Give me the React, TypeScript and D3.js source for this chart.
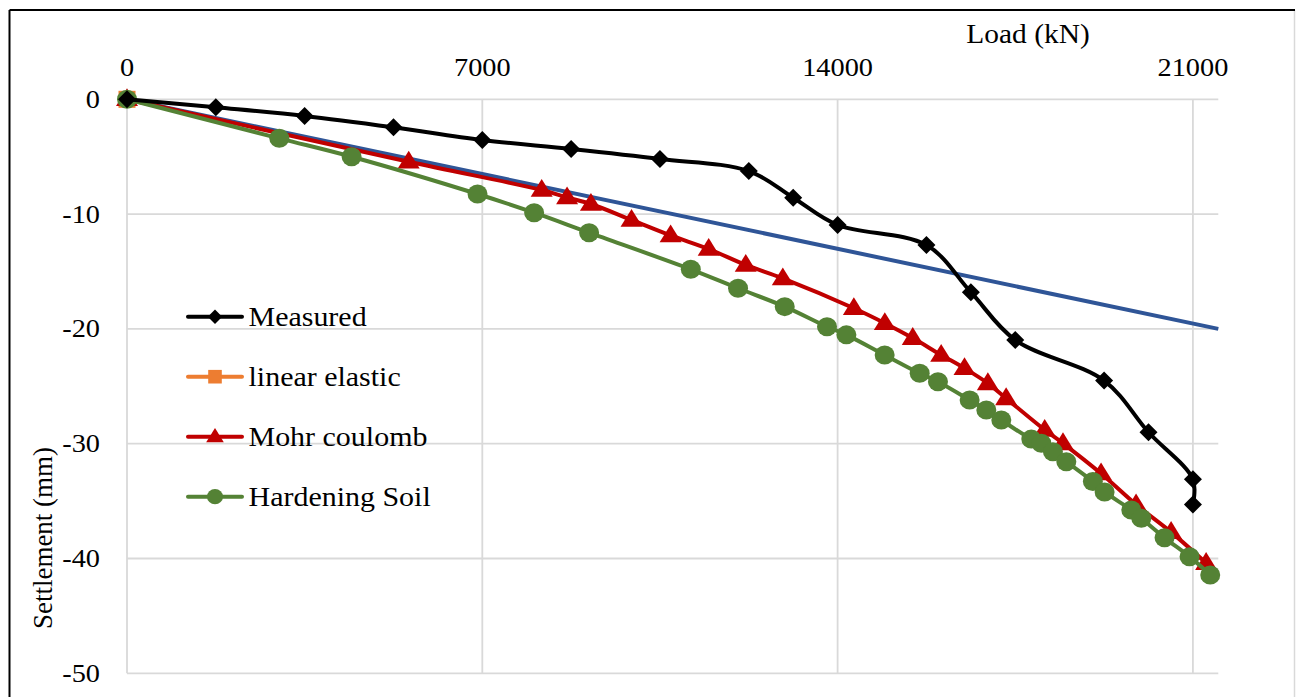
import React, { useEffect } from 'react';
import * as d3 from 'd3';

// load (kN) / settlement (mm)
const measuredLoad = [0, 1750, 3500, 5250, 7000, 8750, 10500, 12250, 13125, 14000, 15750, 16625, 17500, 19250, 20125, 21000, 21000];
const measuredSettle = [0, -0.7, -1.45, -2.44, -3.55, -4.33, -5.2, -6.25, -8.57, -10.95, -12.7, -16.8, -20.97, -24.5, -29.0, -33.1, -35.3];

const elasticLoad = [0];
const elasticSettle = [0];

// blue straight line
const trendLoad = [0, 21500];
const trendSettle = [0, -20];

const mohrLoad = [0, 5550, 8170, 8670, 9140, 9940, 10710, 11460, 12190, 12920, 14320, 14930, 15480, 16040, 16500, 16960, 17320, 18080, 18440, 19190, 19880, 20570, 21260];
const mohrSettle = [0, -5.44, -7.9, -8.55, -9.12, -10.51, -11.86, -13.04, -14.43, -15.6, -18.2, -19.5, -20.8, -22.27, -23.43, -24.74, -26.05, -28.8, -29.97, -32.6, -35.3, -37.7, -40.4];

const hsLoad = [0, 3000, 4425, 6906, 8021, 9104, 11107, 12038, 12958, 13791, 14173, 14927, 15617, 15977, 16601, 16930, 17225, 17816, 18013, 18242, 18506, 19029, 19260, 19786, 19983, 20441, 20934, 21341];
const hsSettle = [0, -3.4, -5.0, -8.25, -9.88, -11.62, -14.81, -16.46, -18.06, -19.81, -20.52, -22.27, -23.87, -24.6, -26.19, -27.07, -27.94, -29.6, -29.96, -30.7, -31.57, -33.3, -34.2, -35.77, -36.5, -38.2, -39.84, -41.43];

const xTicks = [0, 7000, 14000, 21000];
const yTicks = [0, -10, -20, -30, -40, -50];

const legendNames = ['Measured', 'linear elastic', 'Mohr coulomb', 'Hardening Soil'];

const W = 1297;
const H = 697;
const FONT = "'Liberation Serif', 'Times New Roman', 'DejaVu Serif', serif";
const SX = 1.09; // the picture is a bit wide

const BLACK = '#000000';
const ORANGE = '#ED7D31';
const RED = '#C00000';
const GREEN = '#548235';
const BLUE = '#2F5597';

const txt = { fontFamily: FONT };

function zip(xs: number[], ys: number[]): [number, number][] {
  return xs.map((x, i) => [x, ys[i]]);
}

function Marker({ kind, x, y, color, s = 1 }: { kind: string; x: number; y: number; color: string; s?: number }) {
  if (kind === 'diamond') {
    const r = 9 * s;
    return <path d={`M${x},${y - r}L${x + r},${y}L${x},${y + r}L${x - r},${y}Z`} fill={color} />;
  }
  if (kind === 'square') {
    const r = 8.5 * s;
    return <rect x={x - r} y={y - r} width={2 * r} height={2 * r} fill={color} />;
  }
  if (kind === 'triangle') {
    const r = 11 * s;
    return <path d={`M${x},${y - r}L${x + r},${y + r * 0.62}L${x - r},${y + r * 0.62}Z`} fill={color} />;
  }
  return <ellipse cx={x} cy={y} rx={10 * s} ry={9.5 * s} fill={color} />;
}

export default function App() {
  useEffect(() => {
    document.body.style.margin = '0';
    document.body.style.overflow = 'hidden';
  }, []);

  const x = d3.scaleLinear().domain([0, 21500]).range([127, 1218.3]);
  const y = d3.scaleLinear().domain([-50, 0]).range([673.3, 99.3]);

  const smooth = d3.line<[number, number]>()
    .x(d => x(d[0]))
    .y(d => y(d[1]))
    .curve(d3.curveCatmullRom.alpha(0.5));
  const straight = d3.line<[number, number]>()
    .x(d => x(d[0]))
    .y(d => y(d[1]));

  const series = [
    { pts: zip(mohrLoad, mohrSettle), color: RED, kind: 'triangle' },
    { pts: zip(hsLoad, hsSettle), color: GREEN, kind: 'circle' },
    { pts: zip(measuredLoad, measuredSettle), color: BLACK, kind: 'diamond' },
  ];

  const legendItems = [
    { color: BLACK, kind: 'diamond' },
    { color: ORANGE, kind: 'square' },
    { color: RED, kind: 'triangle' },
    { color: GREEN, kind: 'circle' },
  ];

  const [x0, x1] = x.range();
  const [yb, yt] = y.range();

  return (
    <svg width={W} height={H} style={{ display: 'block', background: '#fff' }}>
      <rect x={0} y={0} width={W} height={H} fill="#fff" />
      {/* chart frame */}
      <line x1={1294.5} y1={10} x2={1294.5} y2={H} stroke="#D9D9D9" strokeWidth={1.5} />
      <line x1={9.5} y1={10} x2={1295} y2={10} stroke="#000" strokeWidth={2} />
      <line x1={9.5} y1={10} x2={9.5} y2={H} stroke="#000" strokeWidth={2} />

      {/* grid */}
      {yTicks.map(t => (
        <line key={'h' + t} x1={x0} x2={x1} y1={y(t)} y2={y(t)} stroke="#D9D9D9" strokeWidth={1.8} />
      ))}
      {xTicks.map(t => (
        <line key={'v' + t} x1={x(t)} x2={x(t)} y1={yt} y2={yb} stroke="#D9D9D9" strokeWidth={1.8} />
      ))}

      {/* tick labels */}
      {xTicks.map(t => (
        <text key={'xt' + t} style={txt} transform={`translate(${x(t)},76) scale(${SX},1)`} textAnchor="middle" fontSize={26} fill="#000">
          {t}
        </text>
      ))}
      {yTicks.map(t => (
        <text key={'yt' + t} style={txt} transform={`translate(100,${y(t) + 8.5}) scale(${SX},1)`} textAnchor="end" fontSize={26} fill="#000">
          {t}
        </text>
      ))}
      <text style={txt} transform={`translate(1028,43) scale(${SX},1)`} textAnchor="middle" fontSize={27} fill="#000">Load (kN)</text>
      <text style={txt} transform="translate(52,538) rotate(-90)" textAnchor="middle" fontSize={27} fill="#000">Settlement (mm)</text>

      {/* blue line */}
      <path d={straight(zip(trendLoad, trendSettle)) || ''} fill="none" stroke={BLUE} strokeWidth={4} />
      {zip(elasticLoad, elasticSettle).map((p, i) => (
        <Marker key={'e' + i} kind="square" x={x(p[0])} y={y(p[1])} color={ORANGE} />
      ))}

      {series.map((s, si) => (
        <g key={'s' + si}>
          <path d={smooth(s.pts) || ''} fill="none" stroke={s.color} strokeWidth={4} strokeLinejoin="round" />
          {s.pts.map((p, i) => (
            <Marker key={i} kind={s.kind} x={x(p[0])} y={y(p[1])} color={s.color} />
          ))}
        </g>
      ))}

      {/* legend */}
      {legendNames.map((name, i) => {
        const ly = 316.7 + i * 60;
        const it = legendItems[i];
        return (
          <g key={'lg' + i}>
            <line x1={188} x2={242} y1={ly} y2={ly} stroke={it.color} strokeWidth={4} strokeLinecap="round" />
            <Marker kind={it.kind} x={215} y={ly} color={it.color} s={0.8} />
            <text style={txt} transform={`translate(248.5,${ly + 9.5}) scale(${SX},1)`} fontSize={27.5} fill="#000">{name}</text>
          </g>
        );
      })}
    </svg>
  );
}
